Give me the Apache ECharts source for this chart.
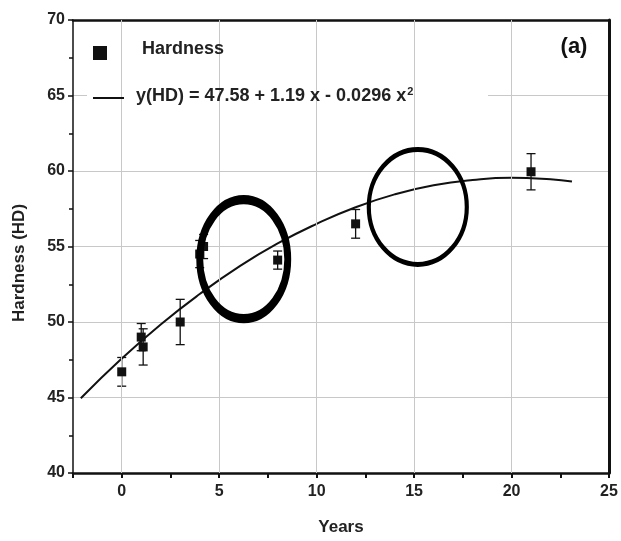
<!DOCTYPE html>
<html>
<head>
<meta charset="utf-8">
<script src="https://cdn.jsdelivr.net/npm/echarts@6/dist/echarts.min.js"></script>
<style>
    html, body { margin: 0; padding: 0; background: #fff; }
    #J-chart { width: 621px; height: 541px; }
</style>
</head>
<body>
<div id="J-chart"></div>
<script>
// measured points (years, hardness) with error bar half width
const pointYears    = [0, 1.0, 1.1, 3, 4.0, 4.2, 8, 12, 21];
const pointHardness = [46.7, 49.0, 48.35, 50.0, 54.5, 55.0, 54.1, 56.5, 59.95];
const pointError    = [0.95, 0.9, 1.2, 1.5, 0.9, 0.8, 0.6, 0.95, 1.2];

// fitted curve
const fitYears    = [-2.1, 0, 2, 4, 6, 8, 10, 12, 14, 16, 18, 20, 22, 23.1];
const fitHardness = [44.95, 47.58, 49.84, 51.85, 53.65, 55.2, 56.5, 57.6, 58.45, 59.05, 59.4, 59.55, 59.45, 59.3];

// hand drawn circles (centre in data units)
const circleCenters = [[6.26, 54.16], [15.19, 57.62]];

// vertical grid lines
const gridYears = [0, 5, 10, 15, 20];

const FONT = '"Liberation Sans", Arial, sans-serif';
const INK = '#111';

const chart = echarts.init(document.getElementById('J-chart'));

const option = {
    animation: false,
    textStyle: { fontFamily: FONT },
    grid: { left: 73, right: 12, top: 20, bottom: 67 },
    xAxis: [
        {
            type: 'value',
            min: -2.5,
            max: 25,
            interval: 2.5,
            name: 'Years',
            nameLocation: 'middle',
            nameGap: 46,
            nameTextStyle: { fontSize: 17, fontWeight: 'bold', color: '#222', fontFamily: FONT },
            axisLine: { onZero: false, lineStyle: { color: INK, width: 2.5 } },
            axisTick: { length: 5, lineStyle: { color: INK, width: 2 } },
            axisLabel: {
                margin: 11,
                fontSize: 16,
                fontWeight: 'bold',
                color: '#222',
                fontFamily: FONT,
                formatter: v => (v % 5 === 0 ? String(v) : '')
            },
            splitLine: { show: false }
        },
        {
            type: 'value',
            position: 'top',
            min: -2.5,
            max: 25,
            axisLine: { show: true, onZero: false, lineStyle: { color: INK, width: 2.5 } },
            axisTick: { show: false },
            axisLabel: { show: false },
            splitLine: { show: false }
        }
    ],
    yAxis: [
        {
            type: 'value',
            min: 40,
            max: 70,
            interval: 5,
            axisLine: { show: true, onZero: false, lineStyle: { color: INK, width: 1.5 } },
            axisTick: { length: 5, lineStyle: { color: INK, width: 1.5 } },
            minorTick: { show: true, splitNumber: 2, length: 4, lineStyle: { color: INK, width: 1.5 } },
            axisLabel: { margin: 8, fontSize: 16, fontWeight: 'bold', color: '#222', fontFamily: FONT },
            splitLine: { show: true, lineStyle: { color: '#c8c8c8', width: 1 } }
        },
        {
            type: 'value',
            position: 'right',
            min: 40,
            max: 70,
            axisLine: { show: true, onZero: false, lineStyle: { color: INK, width: 3 } },
            axisTick: { show: false },
            axisLabel: { show: false },
            splitLine: { show: false }
        }
    ],
    legend: [
        {
            data: ['Hardness'],
            left: 93,
            top: 40,
            padding: 0,
            itemWidth: 14,
            itemHeight: 14,
            z: 6,
            formatter: name => '{t|' + name + '}',
            textStyle: {
                fontSize: 18,
                fontWeight: 'bold',
                color: '#222',
                fontFamily: FONT,
                padding: [0, 0, 0, 30],
                rich: {
                    t: { fontSize: 18, fontWeight: 'bold', color: '#222', fontFamily: FONT, padding: [0, 0, 8, 0] }
                }
            }
        },
        {
            data: ['fit'],
            left: 93,
            top: 86,
            padding: 0,
            icon: 'rect',
            itemWidth: 31,
            itemHeight: 2,
            z: 6,
            formatter: () => 'y(HD) = 47.58 + 1.19 x - 0.0296 x{sup|2}',
            textStyle: {
                fontSize: 18,
                fontWeight: 'bold',
                color: '#222',
                fontFamily: FONT,
                padding: [0, 0, 4, 7],
                rich: {
                    sup: { fontSize: 11, fontWeight: 'bold', color: '#222', fontFamily: FONT, verticalAlign: 'top', padding: [0, 0, 9, 1] }
                }
            }
        }
    ],
    graphic: [
        {
            type: 'rect',
            z: 3,
            shape: { x: 87, y: 38, width: 401, height: 84 },
            style: { fill: '#fff' }
        },
        {
            type: 'text',
            z: 6,
            x: 574,
            y: 47,
            style: { text: '(a)', fontSize: 22, fontWeight: 'bold', fill: '#111', fontFamily: FONT, align: 'center', verticalAlign: 'middle' }
        },
        {
            type: 'text',
            z: 6,
            x: 19,
            y: 263,
            rotation: Math.PI / 2,
            style: { text: 'Hardness (HD)', fontSize: 17, fontWeight: 'bold', fill: '#222', fontFamily: FONT, align: 'center', verticalAlign: 'middle' }
        }
    ],
    series: [
        {
            name: 'gridlines',
            type: 'line',
            data: [],
            z: 1,
            silent: true,
            markLine: {
                silent: true,
                symbol: 'none',
                label: { show: false },
                lineStyle: { color: '#c8c8c8', width: 1, type: 'solid' },
                data: gridYears.map(v => ({ xAxis: v }))
            }
        },
        {
            name: 'fit',
            type: 'line',
            smooth: true,
            symbol: 'none',
            color: INK,
            lineStyle: { color: INK, width: 2 },
            data: fitYears.map((x, i) => [x, fitHardness[i]]),
            z: 3
        },
        {
            name: 'errors',
            type: 'custom',
            z: 4,
            data: pointYears.map((x, i) => [x, pointHardness[i] - pointError[i], pointHardness[i] + pointError[i]]),
            encode: { x: 0, y: [1, 2] },
            renderItem: function(params, api) {
                const x = api.value(0);
                const lo = api.coord([x, api.value(1)]);
                const hi = api.coord([x, api.value(2)]);
                const cap = 4.5;
                const style = { stroke: INK, lineWidth: 1.3 };
                return {
                    type: 'group',
                    children: [
                        { type: 'line', shape: { x1: lo[0], y1: lo[1], x2: hi[0], y2: hi[1] }, style: style },
                        { type: 'line', shape: { x1: hi[0] - cap, y1: hi[1], x2: hi[0] + cap, y2: hi[1] }, style: style },
                        { type: 'line', shape: { x1: lo[0] - cap, y1: lo[1], x2: lo[0] + cap, y2: lo[1] }, style: style }
                    ]
                };
            }
        },
        {
            name: 'Hardness',
            type: 'scatter',
            symbol: 'rect',
            symbolSize: 9,
            color: INK,
            itemStyle: { color: INK, opacity: 1 },
            data: pointYears.map((x, i) => [x, pointHardness[i]]),
            z: 5
        },
        {
            name: 'circles',
            type: 'scatter',
            symbol: 'circle',
            silent: true,
            z: 5,
            data: [
                { value: circleCenters[0], symbolSize: [88, 119], itemStyle: { color: 'rgba(0,0,0,0)', borderColor: '#000', borderWidth: 8, opacity: 1 } },
                { value: circleCenters[1], symbolSize: [98, 115], itemStyle: { color: 'rgba(0,0,0,0)', borderColor: '#000', borderWidth: 4.5, opacity: 1 } }
            ]
        }
    ]
};

chart.setOption(option);
</script>
</body>
</html>
